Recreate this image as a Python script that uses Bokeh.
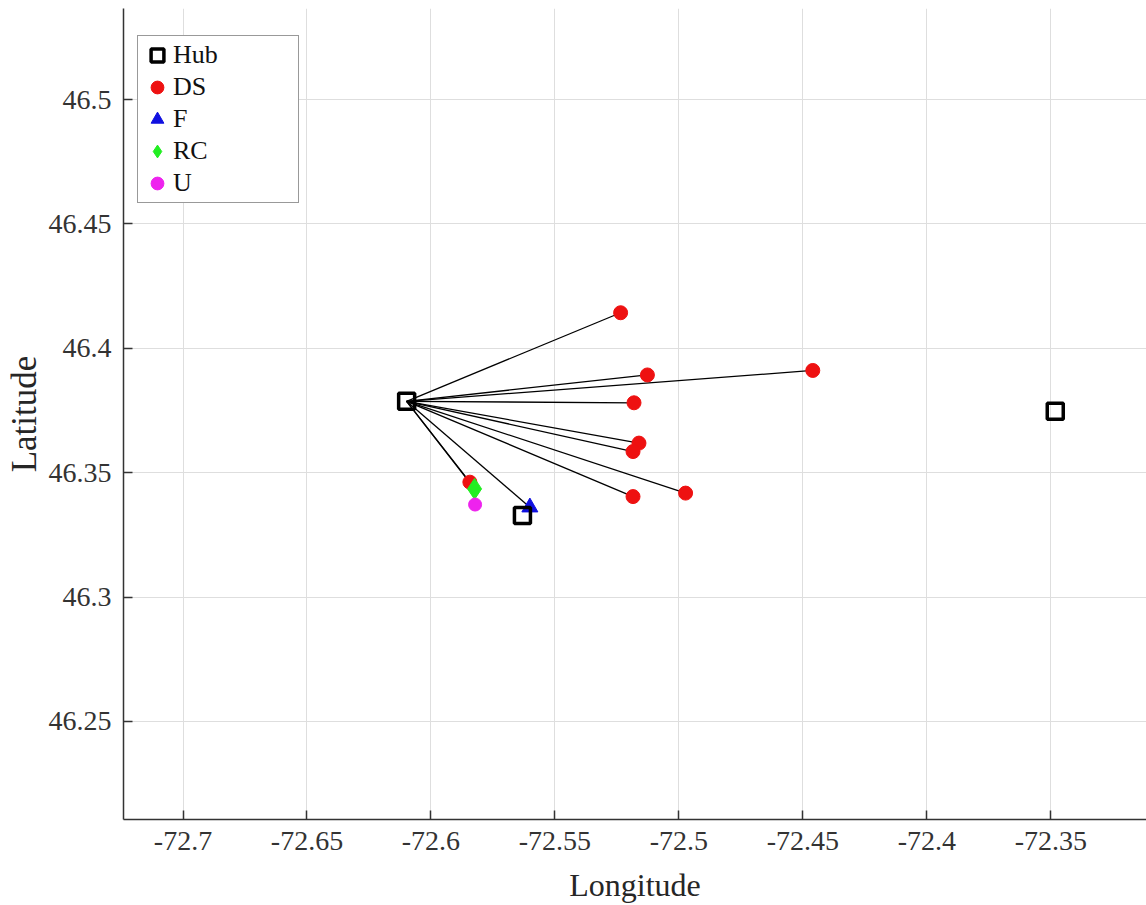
from bokeh.plotting import figure
from bokeh.models import Range1d, FixedTicker, Legend, LegendItem
from bokeh.embed import file_html
from bokeh.resources import INLINE

# ---- data ----
hub_lon = [-72.6098, -72.5631, -72.3482]
hub_lat = [46.3787, 46.3328, 46.3747]

ds_lon = [-72.5235, -72.5127, -72.4460, -72.5181, -72.5161, -72.5185, -72.5185, -72.4973, -72.5843]
ds_lat = [46.4143, 46.3893, 46.3911, 46.3781, 46.3619, 46.3585, 46.3404, 46.3418, 46.3462]

f_lon = [-72.5601]
f_lat = [46.3361]

rc_lon = [-72.5824]
rc_lat = [46.3435]

u_lon = [-72.5822]
u_lat = [46.3372]

x_ticks = [-72.7, -72.65, -72.6, -72.55, -72.5, -72.45, -72.4, -72.35]
x_tick_labels = ["-72.7", "-72.65", "-72.6", "-72.55", "-72.5", "-72.45", "-72.4", "-72.35"]
y_ticks = [46.25, 46.3, 46.35, 46.4, 46.45, 46.5]
y_tick_labels = ["46.25", "46.3", "46.35", "46.4", "46.45", "46.5"]

FONT = "Liberation Serif"

p = figure(width=1146, height=905,
           x_range=Range1d(-72.724, -72.3114), y_range=Range1d(46.2106, 46.5366),
           output_backend="svg", toolbar_location=None,
           min_border_left=123, min_border_right=0, min_border_top=8, min_border_bottom=86)
p.outline_line_color = None
p.background_fill_color = "white"
p.border_fill_color = "white"

# links from the main hub to its served nodes
tgt_lon = ds_lon + f_lon + rc_lon
tgt_lat = ds_lat + f_lat + rc_lat
p.segment(x0=[hub_lon[0]] * len(tgt_lon), y0=[hub_lat[0]] * len(tgt_lat),
          x1=tgt_lon, y1=tgt_lat, line_color="black", line_width=1.3)

r_ds = p.scatter(ds_lon, ds_lat, marker="circle", size=14, fill_color="#ee1111", line_color="#ee1111")
r_f = p.scatter(f_lon, f_lat, marker="triangle", size=16, fill_color="#1010e0", line_color="#1010e0")
r_rc = p.scatter(rc_lon, rc_lat, marker="diamond", size=21, fill_color="#22ee22", line_color="#22ee22")
r_u = p.scatter(u_lon, u_lat, marker="circle", size=13, fill_color="#ee22ee", line_color="#ee22ee")
r_hub = p.scatter(hub_lon, hub_lat, marker="square", size=16, fill_alpha=0, line_color="black", line_width=3.5)

# axes
for ax, ticks, labels in ((p.xaxis[0], x_ticks, x_tick_labels), (p.yaxis[0], y_ticks, y_tick_labels)):
    ax.ticker = FixedTicker(ticks=ticks)
    ax.major_label_overrides = dict(zip(ticks, labels))
    ax.minor_tick_line_color = None
    ax.major_tick_in = 9
    ax.major_tick_out = 0
    ax.axis_line_color = "#333333"
    ax.axis_line_width = 1.5
    ax.major_tick_line_color = "#333333"
    ax.major_tick_line_width = 1.5
    ax.major_label_text_font = FONT
    ax.major_label_text_font_size = "28px"
    ax.major_label_text_color = "#333333"
    ax.axis_label_text_font = FONT
    ax.axis_label_text_font_style = "normal"
    ax.axis_label_text_color = "#262626"

p.xaxis.axis_label = "Longitude"
p.yaxis.axis_label = "Latitude"
p.xaxis.axis_label_text_font_size = "32px"
p.yaxis.axis_label_text_font_size = "35px"
p.xaxis.major_label_standoff = 12
p.yaxis.major_label_standoff = 12
p.xaxis.axis_label_standoff = 14
p.yaxis.axis_label_standoff = 2

p.xgrid.ticker = FixedTicker(ticks=x_ticks)
p.ygrid.ticker = FixedTicker(ticks=y_ticks)
p.grid.grid_line_color = "#dedede"
p.grid.grid_line_width = 1

legend = Legend(items=[
    LegendItem(label="Hub", renderers=[r_hub]),
    LegendItem(label="DS", renderers=[r_ds]),
    LegendItem(label="F", renderers=[r_f]),
    LegendItem(label="RC", renderers=[r_rc]),
    LegendItem(label="U", renderers=[r_u]),
], location=(14, 616))
legend.margin = 0
legend.padding = 3
legend.spacing = 0
legend.glyph_width = 32
legend.glyph_height = 32
legend.label_height = 32
legend.label_width = 122
legend.label_standoff = 0
legend.label_text_font = FONT
legend.label_text_font_size = "26px"
legend.label_text_color = "#111111"
legend.border_line_color = "#333333"
legend.border_line_width = 1.5
legend.background_fill_color = "white"
legend.background_fill_alpha = 1
p.add_layout(legend)

with open("out.html", "w") as fh:
    fh.write(file_html(p, INLINE))
